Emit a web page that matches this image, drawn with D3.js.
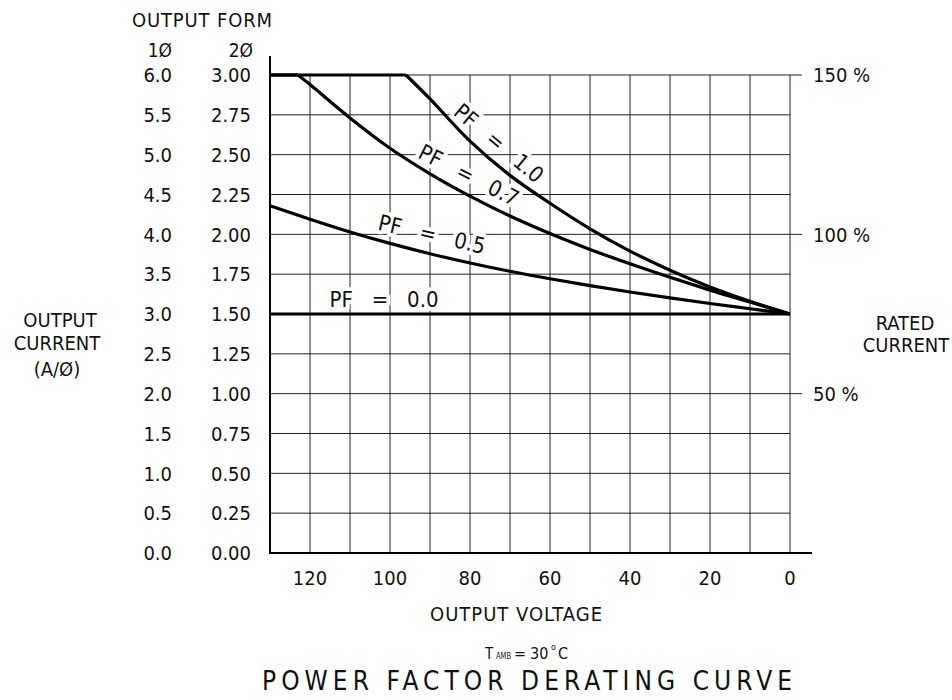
<!DOCTYPE html>
<html><head><meta charset="utf-8">
<script src="https://cdn.jsdelivr.net/npm/d3@7"></script>
<style>
body{margin:0;background:#fff}
svg text{font-family:"DejaVu Sans Condensed","DejaVu Sans",sans-serif;font-stretch:condensed;fill:#111}
text.cl{white-space:pre}
</style></head><body>
<svg id="c" width="952" height="700"></svg>
<script>
// ---- data ----
const voltageTicks = [120, 100, 80, 60, 40, 20, 0];
const gridVoltages = [10, 20, 30, 40, 50, 60, 70, 80, 90, 100, 110, 120, 0];
const current2Ticks = [0, 0.25, 0.5, 0.75, 1.0, 1.25, 1.5, 1.75, 2.0, 2.25, 2.5, 2.75, 3.0];
const current2Labels = ["0.00","0.25","0.50","0.75","1.00","1.25","1.50","1.75","2.00","2.25","2.50","2.75","3.00"];
const current1Labels = ["0.0","0.5","1.0","1.5","2.0","2.5","3.0","3.5","4.0","4.5","5.0","5.5","6.0"];
const pctTicks = [150, 100, 50];

// PF = 1.0 (2-phase amps)
const pf10PlateauV = [130, 96];
const pf10PlateauA = [3.00, 3.00];
const pf10V = [96, 90, 80, 70, 60, 50, 40, 30, 20, 10, 0];
const pf10A = [3.00, 2.85, 2.585, 2.37, 2.195, 2.035, 1.895, 1.775, 1.67, 1.58, 1.50];
// PF = 0.7
const pf07PlateauV = [130, 123];
const pf07PlateauA = [3.00, 3.00];
const pf07V = [123, 120, 110, 100, 90, 80, 70, 60, 50, 40, 30, 20, 10, 0];
const pf07A = [3.00, 2.94, 2.73, 2.54, 2.38, 2.24, 2.115, 2.005, 1.905, 1.815, 1.73, 1.65, 1.575, 1.50];
// PF = 0.5
const pf05V = [130, 120, 110, 100, 90, 80, 70, 60, 50, 40, 30, 20, 10, 0];
const pf05A = [2.18, 2.095, 2.015, 1.943, 1.878, 1.82, 1.768, 1.721, 1.678, 1.638, 1.601, 1.566, 1.533, 1.50];
// PF = 0.0
const pf00V = [130, 0];
const pf00A = [1.50, 1.50];

const curveLabels = ["PF   =   1.0", "PF   =   0.7", "PF   =   0.5", "PF   =   0.0"];

// ---- drawing ----
const svg = d3.select("#c");
const x = d3.scaleLinear().domain([130, 0]).range([270, 790]);
const y = d3.scaleLinear().domain([0, 3]).range([553, 75]);
const yPct = d3.scaleLinear().domain([0, 150]).range([553, 75]);

const g = svg.append("g");

// grid
g.selectAll("line.vg").data(gridVoltages).join("line")
  .attr("x1", d => x(d)).attr("x2", d => x(d))
  .attr("y1", y(0)).attr("y2", y(3))
  .attr("stroke", "#222").attr("stroke-width", 1);
g.selectAll("line.hg").data(current2Ticks.filter(d => d > 0)).join("line")
  .attr("x1", x(130)).attr("x2", x(0))
  .attr("y1", d => y(d)).attr("y2", d => y(d))
  .attr("stroke", "#222").attr("stroke-width", 1);

// right percent ticks
g.selectAll("line.pt").data(pctTicks).join("line")
  .attr("x1", x(0)).attr("x2", x(0) + 12)
  .attr("y1", d => yPct(d)).attr("y2", d => yPct(d))
  .attr("stroke", "#222").attr("stroke-width", 1);
g.selectAll("text.pt").data(pctTicks).join("text")
  .attr("x", x(0) + 23).attr("y", d => yPct(d))
  .attr("dy", "0.36em").attr("font-size", 20)
  .text(d => d + " %");

// axes frame
g.append("line").attr("x1", x(130)).attr("x2", x(130)).attr("y1", 56).attr("y2", y(0) + 1)
  .attr("stroke", "#000").attr("stroke-width", 2);
g.append("line").attr("x1", x(130)).attr("x2", x(0) + 22).attr("y1", y(0)).attr("y2", y(0))
  .attr("stroke", "#000").attr("stroke-width", 2);

// left tick labels
g.selectAll("text.l1").data(current2Ticks).join("text")
  .attr("x", 172).attr("y", d => y(d)).attr("dy", "0.36em")
  .attr("text-anchor", "end").attr("font-size", 20)
  .text((d, i) => current1Labels[i]);
g.selectAll("text.l2").data(current2Ticks).join("text")
  .attr("x", 251).attr("y", d => y(d)).attr("dy", "0.36em")
  .attr("text-anchor", "end").attr("font-size", 20)
  .text((d, i) => current2Labels[i]);
svg.append("text").attr("x", 172).attr("y", 57).attr("text-anchor", "end").attr("font-size", 19).text("1Ø");
svg.append("text").attr("x", 253).attr("y", 57).attr("text-anchor", "end").attr("font-size", 19).text("2Ø");
svg.append("text").attr("x", 132).attr("y", 27).attr("font-size", 20)
  .attr("textLength", 140).attr("lengthAdjust", "spacing").text("OUTPUT FORM");

// bottom tick labels
g.selectAll("text.xt").data(voltageTicks).join("text")
  .attr("x", d => x(d)).attr("y", 585)
  .attr("text-anchor", "middle").attr("font-size", 20)
  .text(d => d);

// axis titles
const lt = svg.append("text").attr("text-anchor", "middle").attr("font-size", 20);
lt.append("tspan").attr("x", 60).attr("y", 327).text("OUTPUT");
lt.append("tspan").attr("x", 57).attr("y", 350).text("CURRENT");
lt.append("tspan").attr("x", 57).attr("y", 376).text("(A/Ø)");

const rt = svg.append("text").attr("text-anchor", "middle").attr("font-size", 20);
rt.append("tspan").attr("x", 905).attr("y", 330).text("RATED");
rt.append("tspan").attr("x", 906).attr("y", 352).text("CURRENT");

svg.append("text").attr("x", 516).attr("y", 621).attr("text-anchor", "middle")
  .attr("font-size", 20).attr("textLength", 172).attr("lengthAdjust", "spacing")
  .text("OUTPUT VOLTAGE");

// T_AMB = 30°C (separate pieces, spaced so they do not touch)
const tBase = 659;
svg.append("text").attr("x", 485).attr("y", tBase).attr("font-size", 15).text("T");
svg.append("text").attr("x", 496).attr("y", tBase).attr("font-size", 9)
  .attr("textLength", 15).attr("lengthAdjust", "spacingAndGlyphs").text("AMB");
svg.append("text").attr("x", 514).attr("y", tBase).attr("font-size", 16).text("=");
svg.append("text").attr("x", 530).attr("y", tBase).attr("font-size", 16).text("30");
svg.append("text").attr("x", 551).attr("y", tBase - 9).attr("font-size", 9).text("o");
svg.append("text").attr("x", 558).attr("y", tBase).attr("font-size", 16).text("C");

svg.append("text").attr("x", 527).attr("y", 690).attr("text-anchor", "middle")
  .attr("font-size", 26).attr("textLength", 530).attr("lengthAdjust", "spacing")
  .text("POWER FACTOR DERATING CURVE");

// curve labels (white halo knocks out grid)
const labelPos = [
  {cx: 499, cy: 143, a: 40},
  {cx: 469, cy: 175, a: 27},
  {cx: 432, cy: 234, a: 13},
  {cx: 384, cy: 299, a: 0}
];
g.selectAll("text.cl").data(curveLabels).join("text").attr("class", "cl")
  .attr("transform", (d, i) => `translate(${labelPos[i].cx},${labelPos[i].cy}) rotate(${labelPos[i].a})`)
  .attr("text-anchor", "middle").attr("dy", "0.36em").attr("font-size", 22)
  .attr("stroke", "#fff").attr("stroke-width", 8).attr("paint-order", "stroke")
  .attr("stroke-linejoin", "round")
  .text(d => d);

// curves
const lin = d3.line().x(d => x(d[0])).y(d => y(d[1]));
const smooth = d3.line().x(d => x(d[0])).y(d => y(d[1])).curve(d3.curveCatmullRom.alpha(0.5));
const zip = (a, b) => a.map((v, i) => [v, b[i]]);
const paths = [
  [lin, zip(pf10PlateauV, pf10PlateauA)],
  [smooth, zip(pf10V, pf10A)],
  [lin, zip(pf07PlateauV, pf07PlateauA)],
  [smooth, zip(pf07V, pf07A)],
  [smooth, zip(pf05V, pf05A)],
  [lin, zip(pf00V, pf00A)]
];
paths.forEach(([gen, pts]) => {
  g.append("path").attr("d", gen(pts)).attr("fill", "none")
    .attr("stroke", "#000").attr("stroke-width", 3.2).attr("stroke-linejoin", "round");
});
</script>
</body></html>
